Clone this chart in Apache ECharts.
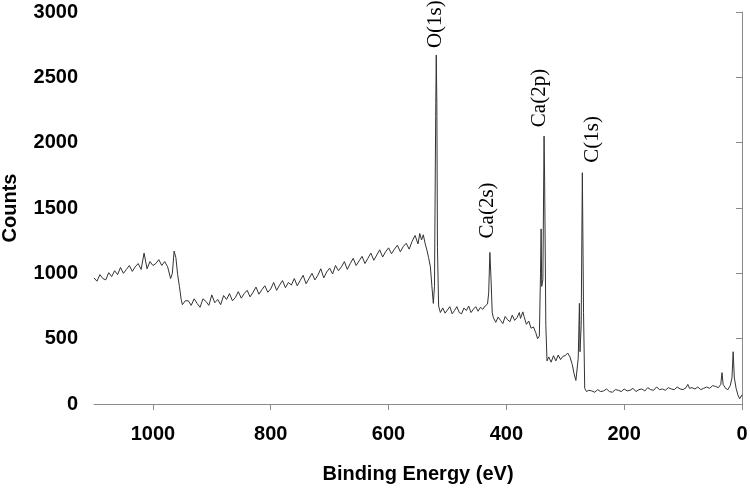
<!DOCTYPE html>
<html>
<head>
<meta charset="utf-8">
<script src="https://cdn.jsdelivr.net/npm/echarts@6/dist/echarts.min.js"></script>
<style>
  html, body { margin: 0; padding: 0; background: #fff; }
  #chart { width: 750px; height: 488px; }
</style>
</head>
<body>
<div id="chart"></div>
<script>
// Binding energy (eV) and counts
const energy = [
  1100,1095,1090,1085,1080,1075,1070,1065,1060,1055,1050,1045,1040,1035,1030,1025,1020,1015,1010,1005,
  1000,995,990,985,980,975,970,967,964,961,958,955,952,950,945,
  940,935,930,925,920,915,910,905,900,895,890,885,880,875,870,865,860,855,850,845,840,835,830,825,820,
  815,810,805,800,795,790,785,780,775,770,765,760,755,750,745,740,735,730,725,720,715,710,705,700,
  695,690,685,680,675,670,665,660,655,650,645,640,635,630,625,620,615,610,605,600,595,590,585,580,
  575,570,565,560,555,550,547,544,541,538,535,532,529,526,524,522,520,519,518,517,515,512,
  508,504,500,496,492,488,484,480,476,472,468,464,460,456,452,448,444,440,436,432,430,428,426,424,
  422,418,414,410,406,402,398,394,390,386,382,378,376,372,370,366,362,358,354,350,347,344,342,341,
  340,338,336,335,333,331,328,324,320,316,312,308,304,300,296,292,288,285,282,280,278,276,275,273,
  271,269,267,264,260,255,250,245,240,235,230,225,220,215,210,205,200,195,190,185,180,175,170,165,
  160,155,150,145,140,135,130,125,120,115,110,105,100,95,92,89,85,80,75,70,65,60,55,50,45,40,
  36,34,32,28,24,20,17,15,13,10,7,4,2,0
];
const counts = [
  965,940,990,960,950,1005,975,1020,990,1045,1000,1030,1060,1015,1050,1075,1030,1155,1035,1090,
  1060,1075,1105,1060,1090,1050,960,1000,1170,1120,990,900,800,760,790,
  790,755,805,770,740,805,785,755,835,775,800,760,830,800,845,790,815,860,810,845,870,820,855,895,840,
  875,905,855,880,930,870,910,945,890,930,910,960,905,945,985,920,960,1000,950,985,1035,965,1010,1040,
  995,1060,1020,1050,1090,1030,1075,1115,1060,1095,1130,1075,1115,1155,1100,1140,1180,1125,1165,1195,1150,1185,1215,1165,
  1205,1230,1185,1245,1290,1225,1305,1255,1295,1230,1180,1120,1050,880,770,900,2200,2670,2300,1200,750,700,
  735,695,720,745,690,715,745,700,690,735,715,750,700,725,745,710,740,725,750,765,850,1160,950,700,
  660,625,665,640,615,670,645,630,680,640,660,700,655,705,670,610,635,580,590,545,500,520,1000,1340,
  900,950,2050,1700,600,330,360,320,370,330,375,340,365,370,390,360,300,230,180,170,350,770,400,600,
  1770,700,120,95,105,100,90,110,95,100,115,95,90,110,105,95,115,100,105,120,95,110,115,100,
  125,110,105,130,110,115,105,125,115,110,130,115,110,125,150,120,125,115,130,110,120,130,120,140,135,125,
  150,240,150,120,110,140,200,400,200,120,70,40,35,70
];
const xTicks = [0, 200, 400, 600, 800, 1000];
const yTicks = [0, 500, 1000, 1500, 2000, 2500, 3000];
const peakNames = ['O(1s)', 'Ca(2s)', 'Ca(2p)', 'C(1s)'];
const peakEnergy = [519, 428, 336, 271];
const peakCounts = [2670, 1160, 2050, 1770];

const seriesData = energy.map((e, i) => [e, counts[i]]);
const chart = echarts.init(document.getElementById('chart'), null, { renderer: 'canvas' });

const axisGray = '#8a8a8a';
const labelFont = { fontFamily: '"Liberation Sans", Arial, sans-serif', fontWeight: 'bold', fontSize: 20, color: '#000' };
const plain = v => String(v);

chart.setOption({
  animation: false,
  backgroundColor: '#fff',
  grid: { left: 94, right: 8, top: 12, bottom: 84, containLabel: false, outerBoundsMode: 'none' },
  xAxis: {
    type: 'value', inverse: true, min: 0, max: 1100, interval: 200,
    name: 'Binding Energy (eV)', nameLocation: 'middle', nameGap: 60,
    nameTextStyle: labelFont,
    axisLine: { show: true, lineStyle: { color: axisGray, width: 1 } },
    axisTick: { show: true, length: 6, lineStyle: { color: axisGray }, customValues: xTicks },
    axisLabel: Object.assign({ margin: 20, customValues: xTicks, formatter: plain }, labelFont),
    splitLine: { show: false }
  },
  yAxis: {
    type: 'value', min: 0, max: 3000, interval: 500,
    name: 'Counts', nameLocation: 'middle', nameGap: 74,
    nameTextStyle: labelFont,
    axisLine: { show: true, lineStyle: { color: axisGray, width: 1 } },
    axisTick: { show: true, length: 6, lineStyle: { color: axisGray }, customValues: yTicks },
    axisLabel: Object.assign({ margin: 16, customValues: yTicks, formatter: plain }, labelFont),
    splitLine: { show: false }
  },
  series: [{
    type: 'line', data: seriesData, showSymbol: false, symbol: 'none',
    lineStyle: { color: '#333', width: 1 }, z: 2
  }]
});

// peak annotations: rotated serif text above each peak
const offsets = [[-0.5, 7], [-2, 14], [-5, 9], [10, 10]];
const graphics = peakNames.map((name, i) => {
  const p = chart.convertToPixel({ gridIndex: 0 }, [peakEnergy[i], peakCounts[i]]);
  return {
    type: 'text',
    x: p[0] + offsets[i][0],
    y: p[1] - offsets[i][1],
    rotation: Math.PI / 2,
    style: {
      text: name,
      font: '21px "Liberation Serif", "Times New Roman", serif',
      fill: '#000',
      align: 'left',
      verticalAlign: 'middle'
    },
    z: 10
  };
});
chart.setOption({ graphic: graphics });
</script>
</body>
</html>
